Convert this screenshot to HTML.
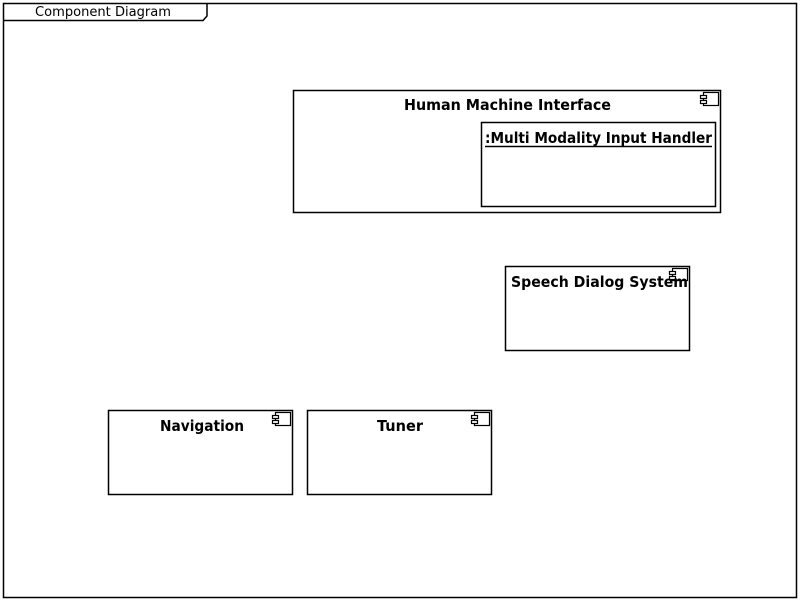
<!DOCTYPE html>
<html><head><style>body{margin:0;background:#fff}svg{display:block}text{font-family:"DejaVu Sans","Liberation Sans",sans-serif}</style></head>
<body>
<svg width="800" height="600" xmlns="http://www.w3.org/2000/svg">
<rect x="3.5" y="3.5" width="793" height="594" fill="#fff" stroke="#000" stroke-width="1.5"/>
<path d="M3.5 20.5 H203 L207 16 V3.5" fill="none" stroke="#000" stroke-width="1.5"/>
<text x="35" y="16" font-size="13" textLength="136" lengthAdjust="spacingAndGlyphs">Component Diagram</text>

<rect x="293.5" y="90.5" width="427" height="122" fill="#fff" stroke="#000" stroke-width="1.5"/>
<text x="404" y="110" font-size="15" font-weight="bold" textLength="207" lengthAdjust="spacingAndGlyphs">Human Machine Interface</text>
<g stroke="#000" fill="#fff" stroke-width="1.2"><rect x="703.5" y="92.5" width="15" height="13"/><rect x="700.5" y="95.5" width="6" height="3"/><rect x="700.5" y="100.5" width="6" height="3"/></g>

<rect x="481.5" y="122.5" width="234" height="84" fill="#fff" stroke="#000" stroke-width="1.5"/>
<text x="485" y="143" font-size="15" font-weight="bold" textLength="227" lengthAdjust="spacingAndGlyphs">:Multi Modality Input Handler</text>
<line x1="485" y1="146.5" x2="712" y2="146.5" stroke="#000" stroke-width="1.5"/>

<rect x="505.5" y="266.5" width="184" height="84" fill="#fff" stroke="#000" stroke-width="1.5"/>
<g stroke="#000" fill="#fff" stroke-width="1.2"><rect x="672.5" y="268.5" width="15" height="12"/><rect x="669.5" y="271.5" width="6" height="3"/><rect x="669.5" y="276.5" width="6" height="3"/></g>
<text x="511" y="287" font-size="15" font-weight="bold" textLength="177" lengthAdjust="spacingAndGlyphs">Speech Dialog System</text>

<rect x="108.5" y="410.5" width="184" height="84" fill="#fff" stroke="#000" stroke-width="1.5"/>
<g stroke="#000" fill="#fff" stroke-width="1.2"><rect x="275.5" y="412.5" width="15" height="13"/><rect x="272.5" y="415.5" width="6" height="3"/><rect x="272.5" y="420.5" width="6" height="3"/></g>
<text x="160" y="431" font-size="15" font-weight="bold" textLength="84" lengthAdjust="spacingAndGlyphs">Navigation</text>

<rect x="307.5" y="410.5" width="184" height="84" fill="#fff" stroke="#000" stroke-width="1.5"/>
<g stroke="#000" fill="#fff" stroke-width="1.2"><rect x="474.5" y="412.5" width="15" height="13"/><rect x="471.5" y="415.5" width="6" height="3"/><rect x="471.5" y="420.5" width="6" height="3"/></g>
<text x="377" y="431" font-size="15" font-weight="bold" textLength="46" lengthAdjust="spacingAndGlyphs">Tuner</text>
</svg>
</body></html>
